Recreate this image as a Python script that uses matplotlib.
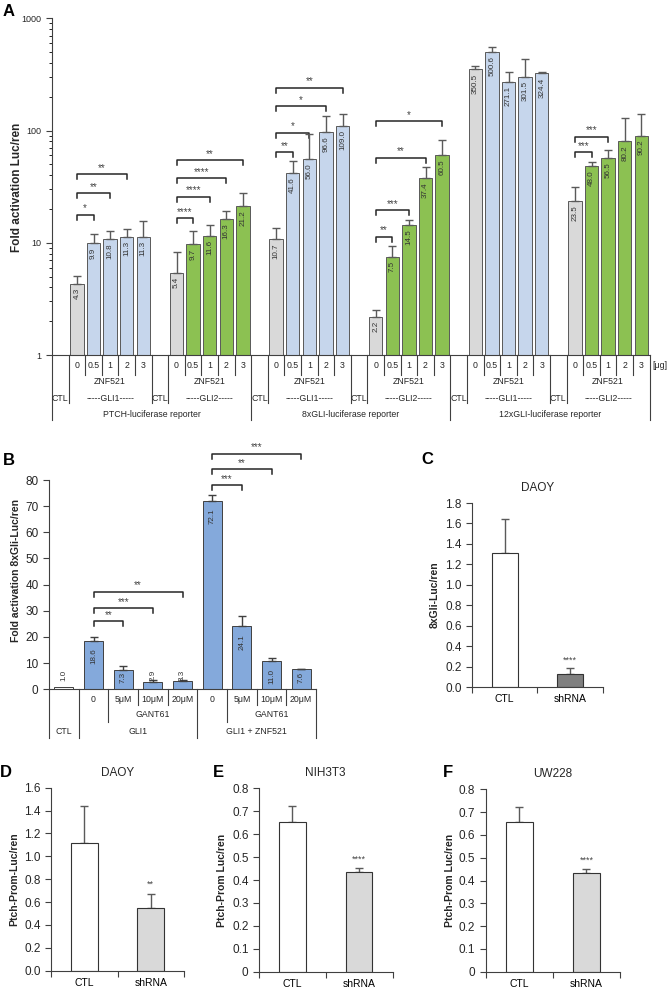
import numpy as np
import matplotlib
matplotlib.use('Agg')
from matplotlib import pyplot as plt
from matplotlib import transforms

plt.rcParams['font.family'] = ['Liberation Sans', 'DejaVu Sans']

W, H = 670, 988

# ---------------- panel A data
a_genes = ['GLI1', 'GLI2', 'GLI1', 'GLI2', 'GLI1', 'GLI2']
a_reporters = ['PTCH-luciferase reporter', '8xGLI-luciferase reporter',
               '12xGLI-luciferase reporter']
a_doses = ['0', '0.5', '1', '2', '3']
a_vals = [
    [4.3, 9.9, 10.8, 11.3, 11.3],
    [5.4, 9.7, 11.6, 16.3, 21.2],
    [10.7, 41.6, 56.0, 96.6, 109.0],
    [2.2, 7.5, 14.5, 37.4, 60.5],
    [350.5, 500.6, 271.1, 301.5, 324.4],
    [23.5, 48.0, 56.5, 80.2, 90.2],
]
a_err_top = [
    [5.1, 11.9, 12.7, 13.4, 15.7],
    [8.3, 12.7, 14.3, 19.3, 27.5],
    [13.6, 53.3, 92.7, 136, 140],
    [2.5, 9.3, 15.9, 46.9, 83],
    [376, 559, 330, 431, 330],
    [31.5, 52.5, 66.8, 129, 140],
]
# (group, dose index compared with dose 0, bracket height, stars)
a_sig = [
    (0, 1, 17.7, '*'), (0, 2, 27.5, '**'), (0, 3, 40.8, '**'),
    (1, 1, 16.5, '****'), (1, 2, 25.7, '****'), (1, 3, 37.5, '****'), (1, 4, 54.6, '**'),
    (2, 1, 64, '**'), (2, 2, 95.5, '*'), (2, 3, 165, '*'), (2, 4, 241, '**'),
    (3, 1, 11.3, '**'), (3, 2, 19.5, '***'), (3, 3, 57.5, '**'), (3, 4, 121, '*'),
    (5, 1, 64, '***'), (5, 2, 88, '***'),
]

# ---------------- panel B data
b_conc = ['', '0', '5μM', '10μM', '20μM', '0', '5μM', '10μM', '20μM']
b_vals = [1.0, 18.6, 7.3, 2.9, 3.3, 72.1, 24.1, 11.0, 7.6]
b_err_top = [1.0, 19.9, 8.9, 3.5, 3.7, 74.3, 28.0, 11.9, 7.9]
b_sig = [(1, 2, 26.1, '**'), (1, 3, 31.0, '***'), (1, 4, 37.3, '**'),
         (5, 6, 78.1, '***'), (5, 7, 84.2, '**'), (5, 8, 90.0, '***')]

# ---------------- panels C-F data
cats = ['CTL', 'shRNA']
c_vals, c_err = [1.31, 0.13], [1.64, 0.19]
d_vals, d_err = [1.12, 0.55], [1.44, 0.67]
e_vals, e_err = [0.655, 0.435], [0.723, 0.452]
f_vals, f_err = [0.655, 0.435], [0.722, 0.452]

GRAY = '#D9D9D9'
LBLUE = '#C6D6EC'
GREEN = '#8CC152'
BLUE = '#84A9DB'
INK = '#262626'

fig = plt.figure(figsize=(6.7, 9.88), dpi=100)


def px_axes(x0, y0, x1, y1):
    return fig.add_axes([x0 / W, 1 - y1 / H, (x1 - x0) / W, (y1 - y0) / H])


def px_text(x, y, s, **kw):
    fig.text(x / W, 1 - y / H, s, **kw)


def down(ax, x, y, px):
    d = ax.transData.transform([(x, y)])[0]
    return ax.transData.inverted().transform([(d[0], d[1] - px)])[0][1]


def bracket(ax, x0, x1, y, stars, fs=7):
    lo = down(ax, x0, y, 5)
    ax.plot([x0, x0, x1, x1], [lo, y, y, lo], color=INK, lw=1.1, clip_on=False)
    ax.annotate(stars, ((x0 + x1) / 2, y), xytext=(0, 1), textcoords='offset points',
                ha='center', va='bottom', fontsize=fs, color='#444444',
                annotation_clip=False)


def style_axis(ax):
    for s in ['top', 'right']:
        ax.spines[s].set_visible(False)
    for s in ['left', 'bottom']:
        ax.spines[s].set_linewidth(0.8)
        ax.spines[s].set_color('#404040')
    ax.tick_params(direction='out', width=0.8, color='#404040', labelcolor=INK)


def table_line(ax, trans, hpx, x, p0, p1):
    ax.plot([x, x], [-p0 / hpx, -p1 / hpx], transform=trans, clip_on=False,
            color='#404040', lw=0.8)


def table_text(ax, trans, hpx, x, p, s, fs=6.3, **kw):
    ax.text(x, -p / hpx, s, transform=trans, ha='center', va='center',
            fontsize=fs, color=INK, clip_on=False, **kw)


# ======================= panel A
axA = px_axes(52, 18.3, 649.6, 355)
hA = 355 - 18.3
axA.set_yscale('log')
axA.set_ylim(1, 1000)
axA.set_xlim(-0.5, 35.5)
style_axis(axA)
axA.set_xticks([])
axA.set_yticks([1, 10, 100, 1000])
axA.set_yticklabels(['1', '10', '100', '1000'], fontsize=6.5)
axA.tick_params(axis='y', which='major', length=4)
axA.tick_params(axis='y', which='minor', length=2.5, width=0.6)

for g in range(6):
    xs = [6 * g + 1 + d for d in range(5)]
    cols = [GRAY] + [LBLUE if a_genes[g] == 'GLI1' else GREEN] * 4
    axA.bar(xs, a_vals[g], width=0.8, color=cols, edgecolor='#595959', linewidth=0.7, zorder=2)
    err = np.array(a_err_top[g]) - np.array(a_vals[g])
    axA.errorbar(xs, a_vals[g], yerr=[np.zeros(5), err], fmt='none', ecolor='#5a5a5a',
                 elinewidth=1, capsize=3, capthick=1, zorder=3)
    for x, v in zip(xs, a_vals[g]):
        axA.annotate(f'{v:.1f}', (x, v), xytext=(0, -3), textcoords='offset points',
                     rotation=90, ha='center', va='top', fontsize=5.8, color='#333333', zorder=4)

for g, d, y, stars in a_sig:
    bracket(axA, 6 * g + 1, 6 * g + 1 + d, y, stars)

trA = transforms.blended_transform_factory(axA.transData, axA.transAxes)
for g in range(6):
    left = 6 * g - 0.5
    table_line(axA, trA, hA, left, 0, 65 if g % 2 == 0 else 48)
    table_line(axA, trA, hA, 6 * g + 0.5, 0, 48)
    for k in range(4):
        table_line(axA, trA, hA, 6 * g + 1.5 + k, 0, 20)
    for d, lab in enumerate(a_doses):
        table_text(axA, trA, hA, 6 * g + 1 + d, 10, lab)
    table_text(axA, trA, hA, 6 * g + 3, 26, 'ZNF521')
    table_text(axA, trA, hA, 6 * g, 43, 'CTL')
    table_text(axA, trA, hA, 6 * g + 3, 43, '-----' + a_genes[g] + '-----')
table_line(axA, trA, hA, 35.5, 0, 65)
for k, rep in enumerate(a_reporters):
    table_text(axA, trA, hA, 12 * k + 5.5, 59, rep)
axA.text(35.65, -10 / hA, '[μg]', transform=trA, ha='left', va='center',
         fontsize=6.3, color=INK, clip_on=False)

px_text(3, 12, 'A', fontsize=12, weight='bold', va='center')
px_text(17, 187, 'Fold activation Luc/ren', rotation=90, fontsize=8.5, weight='bold',
        ha='center', va='center', color=INK)

# ======================= panel B
axB = px_axes(49, 480, 316, 689.3)
hB = 689.3 - 480
axB.set_xlim(-0.5, 8.5)
axB.set_ylim(0, 80)
style_axis(axB)
axB.set_xticks([])
axB.set_yticks(range(0, 81, 10))
axB.tick_params(axis='y', labelsize=8.5, length=4)
xb = np.arange(9)
bcols = ['white'] + [BLUE] * 8
axB.bar(xb, b_vals, width=0.64, color=bcols, edgecolor='#404040', linewidth=0.7, zorder=2)
berr = np.array(b_err_top) - np.array(b_vals)
axB.errorbar(xb[1:], b_vals[1:], yerr=[np.zeros(8), berr[1:]], fmt='none', ecolor='#404040',
             elinewidth=1, capsize=3, capthick=1, zorder=3)
for x, v in zip(xb, b_vals):
    barh = v * hB / 80
    if barh < 12:
        axB.annotate(f'{v:.1f}', (x, 0), xytext=(0, 6), textcoords='offset points',
                     rotation=90, ha='center', va='bottom', fontsize=5.8, color='#333333', zorder=4)
    else:
        off = min(8, max(2, barh - 17))
        axB.annotate(f'{v:.1f}', (x, v), xytext=(0, -off * 0.72), textcoords='offset points',
                     rotation=90, ha='center', va='top', fontsize=5.8, color='#333333', zorder=4)
for x0, x1, y, stars in b_sig:
    bracket(axB, x0, x1, y, stars)

trB = transforms.blended_transform_factory(axB.transData, axB.transAxes)
for x, p in [(-0.5, 49), (0.5, 49), (1.5, 33), (2.5, 16), (3.5, 16),
             (4.5, 49), (5.5, 33), (6.5, 16), (7.5, 16), (8.5, 49)]:
    table_line(axB, trB, hB, x, 0, p)
for x, lab in zip(xb, b_conc):
    table_text(axB, trB, hB, x, 10, lab)
table_text(axB, trB, hB, 3, 25, 'GANT61')
table_text(axB, trB, hB, 7, 25, 'GANT61')
table_text(axB, trB, hB, 0, 42, 'CTL')
table_text(axB, trB, hB, 2.5, 42, 'GLI1')
table_text(axB, trB, hB, 6.5, 42, 'GLI1 + ZNF521')

px_text(3, 460, 'B', fontsize=12, weight='bold', va='center')
px_text(16, 570, 'Fold activation 8xGli-Luc/ren', rotation=90, fontsize=7.5, weight='bold',
        ha='center', va='center', color=INK)


# ======================= panels C-F
def small_panel(rect, vals, errs, ymax, step, fmt, cols, title, ylabel, ylab_x, stars, star_y,
                letter, letter_xy):
    x0, y0, x1, y1 = rect
    ax = px_axes(x0, y0, x1, y1)
    style_axis(ax)
    ax.set_xlim(-0.5, 1.5)
    ax.set_ylim(0, ymax)
    ticks = np.arange(0, ymax + step / 2, step)
    ax.set_yticks(ticks)
    ax.set_yticklabels([fmt(t) for t in ticks], fontsize=8.5)
    ax.tick_params(axis='y', length=4)
    ax.set_xticks([-0.5, 0.5, 1.5])
    ax.set_xticklabels([])
    ax.tick_params(axis='x', length=4)
    ax.set_xticks([0, 1], minor=True)
    ax.set_xticklabels(cats, minor=True, fontsize=7.5)
    ax.tick_params(axis='x', which='minor', length=0, pad=5)
    ax.bar([0, 1], vals, width=0.4, color=cols, edgecolor='#333333', linewidth=0.8, zorder=2)
    ax.errorbar([0, 1], vals, yerr=[[0, 0], np.array(errs) - np.array(vals)], fmt='none',
                ecolor='#5a5a5a', elinewidth=1, capsize=3, capthick=1, zorder=1)
    ax.text(1, star_y, stars, ha='center', va='bottom', fontsize=6.5, color='#444444')
    ax.text(0.5, 1 + 15 / (y1 - y0), title, transform=ax.transAxes, ha='center', va='center',
            fontsize=8.5, color=INK)
    px_text(ylab_x, (y0 + y1) / 2, ylabel, rotation=90, fontsize=7.5, weight='bold',
            ha='center', va='center', color=INK)
    px_text(letter_xy[0], letter_xy[1], letter, fontsize=12, weight='bold', ha='center', va='center')
    return ax


def f1(t):
    return f'{t:.1f}'


def f_e(t):
    return '0' if t == 0 else f'{t:.1f}'


small_panel((472, 503, 603, 687), c_vals, c_err, 1.8, 0.2, f1, ['white', '#808080'],
            'DAOY', '8xGli-Luc/ren', 435, '****', 0.22, 'C', (427, 459))
small_panel((51, 787.7, 184, 970.7), d_vals, d_err, 1.6, 0.2, f1, ['white', GRAY],
            'DAOY', 'Ptch-Prom-Luc/ren', 14, '**', 0.72, 'D', (6, 772))
small_panel((259, 788.3, 392.5, 971.7), e_vals, e_err, 0.8, 0.1, f_e, ['white', GRAY],
            'NIH3T3', 'Ptch-Prom Luc/ren', 222, '****', 0.47, 'E', (218, 772))
small_panel((485.7, 789.3, 620, 971.7), f_vals, f_err, 0.8, 0.1, f_e, ['white', GRAY],
            'UW228', 'Ptch-Prom Luc/ren', 450, '****', 0.47, 'F', (448, 772))

fig.savefig('out.png', dpi=100)
